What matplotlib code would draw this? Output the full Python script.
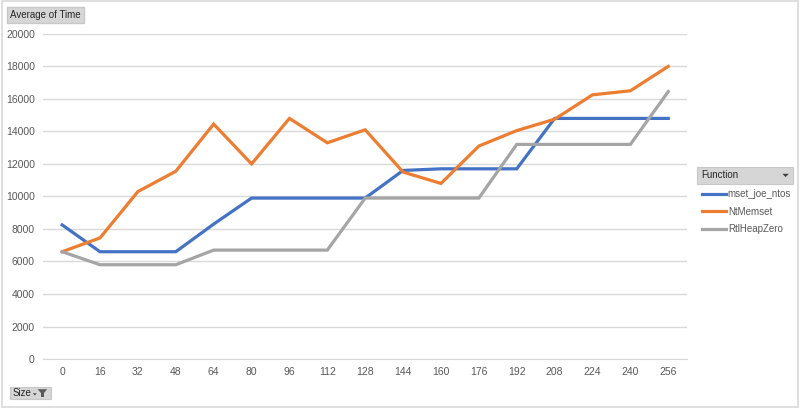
import matplotlib.pyplot as plt
from matplotlib.patches import Rectangle, Polygon

sizes = [0, 16, 32, 48, 64, 80, 96, 112, 128, 144, 160, 176, 192, 208, 224, 240, 256]
mset_joe_ntos = [8250, 6600, 6600, 6600, 8300, 9900, 9900, 9900, 9900, 11600,
                 11700, 11700, 11700, 14800, 14800, 14800, 14800]
nt_memset = [6600, 7450, 10300, 11550, 14450, 12000, 14800, 13300, 14100, 11500,
             10800, 13100, 14050, 14750, 16250, 16500, 18000]
rtl_heap_zero = [6600, 5800, 5800, 5800, 6700, 6700, 6700, 6700, 9900, 9900,
                 9900, 9900, 13200, 13200, 13200, 13200, 16450]
series_names = ["mset_joe_ntos", "NtMemset", "RtlHeapZero"]
colors = ["#4472C4", "#ED7D31", "#A5A5A5"]

plt.rcParams["font.family"] = ["Liberation Sans", "DejaVu Sans"]

fig = plt.figure(figsize=(8, 4.08), dpi=100)
fig.patches.append(Rectangle((0.002, 0.003), 0.996, 0.994, transform=fig.transFigure,
                             fill=False, edgecolor="#D9D9D9", linewidth=1.2))

ax = fig.add_axes([0.054, 0.120, 0.805, 0.797])
x = list(range(len(sizes)))
lines = []
for vals, name, c in zip([mset_joe_ntos, nt_memset, rtl_heap_zero], series_names, colors):
    ln, = ax.plot(x, vals, color=c, linewidth=2.3, label=name, solid_joinstyle="miter")
    lines.append(ln)

ax.set_xlim(-0.5, len(sizes) - 0.5)
ax.set_ylim(0, 20000)
ax.set_yticks(range(0, 20001, 2000))
ax.set_xticks(x)
ax.set_xticklabels([str(s) for s in sizes])
ax.grid(axis="y", color="#D9D9D9", linewidth=1)
ax.set_axisbelow(True)
for s in ["top", "right", "left"]:
    ax.spines[s].set_visible(False)
ax.spines["bottom"].set_color("#D9D9D9")
ax.tick_params(length=0, labelsize=7.5, colors="#595959", pad=6)

# field buttons
fig.text(0.013, 0.963, "Average of Time", fontsize=7, color="#262626", va="center",
         bbox=dict(boxstyle="square,pad=0.35", facecolor="#D6D6D6", edgecolor="#C8C8C8"))

fig.patches.append(Rectangle((0.012, 0.022), 0.052, 0.030, transform=fig.transFigure,
                             facecolor="#D6D6D6", edgecolor="#C8C8C8", linewidth=0.8))
fig.text(0.016, 0.037, "Size", fontsize=7, color="#262626", va="center")
fig.patches.append(Polygon([[0.041, 0.036], [0.046, 0.036], [0.0435, 0.031]], closed=True,
                           transform=fig.transFigure, facecolor="#404040"))
fig.patches.append(Polygon([[0.047, 0.046], [0.059, 0.046], [0.0545, 0.036], [0.0515, 0.036]],
                           closed=True, transform=fig.transFigure, facecolor="#595959"))
fig.patches.append(Rectangle((0.0515, 0.027), 0.003, 0.011, transform=fig.transFigure,
                             facecolor="#595959"))

# legend header
fig.patches.append(Rectangle((0.871, 0.549), 0.120, 0.042, transform=fig.transFigure,
                             facecolor="#D6D6D6", edgecolor="#C8C8C8", linewidth=0.8))
fig.text(0.876, 0.570, "Function", fontsize=7, color="#262626", va="center")
fig.patches.append(Polygon([[0.978, 0.574], [0.986, 0.574], [0.982, 0.566]], closed=True,
                           transform=fig.transFigure, facecolor="#404040"))

fig.legend(handles=lines, loc="upper left", bbox_to_anchor=(0.866, 0.557), frameon=False,
           fontsize=7, handlelength=2.5, handletextpad=0.2, labelspacing=0.75,
           labelcolor="#595959")

fig.savefig("out.png", dpi=100)
